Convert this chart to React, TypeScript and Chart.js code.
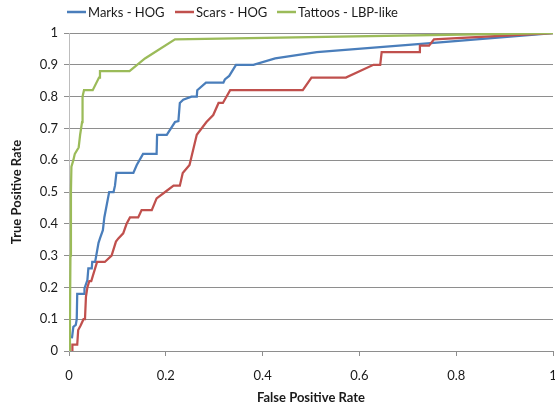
import React, { useEffect, useRef } from "react";
import { Chart, registerables } from "chart.js";

Chart.register(...registerables);

const seriesNames = ["Marks - HOG", "Scars - HOG", "Tattoos - LBP-like"];

const marksX = [0.006, 0.009, 0.014, 0.016, 0.017, 0.031, 0.032, 0.038, 0.04, 0.047, 0.048, 0.054, 0.061, 0.064, 0.07, 0.073, 0.078, 0.083, 0.092, 0.095, 0.098, 0.133, 0.14, 0.153, 0.181, 0.182, 0.202, 0.219, 0.226, 0.229, 0.236, 0.253, 0.264, 0.265, 0.283, 0.319, 0.322, 0.331, 0.345, 0.381, 0.426, 0.512, 0.76, 1];
const marksY = [0.04, 0.076, 0.082, 0.1, 0.18, 0.18, 0.197, 0.223, 0.26, 0.26, 0.28, 0.28, 0.34, 0.354, 0.38, 0.42, 0.46, 0.5, 0.5, 0.52, 0.56, 0.56, 0.585, 0.62, 0.62, 0.68, 0.68, 0.72, 0.723, 0.78, 0.79, 0.8, 0.8, 0.82, 0.844, 0.844, 0.854, 0.865, 0.9, 0.9, 0.92, 0.94, 0.97, 1];

const scarsX = [0.007, 0.007, 0.017, 0.019, 0.024, 0.03, 0.033, 0.035, 0.038, 0.042, 0.046, 0.058, 0.074, 0.088, 0.097, 0.102, 0.112, 0.119, 0.126, 0.143, 0.15, 0.171, 0.181, 0.202, 0.216, 0.229, 0.235, 0.249, 0.264, 0.284, 0.298, 0.309, 0.318, 0.333, 0.483, 0.501, 0.572, 0.629, 0.643, 0.646, 0.724, 0.725, 0.744, 0.754, 1];
const scarsY = [0, 0.02, 0.02, 0.066, 0.08, 0.1, 0.1, 0.17, 0.2, 0.22, 0.22, 0.28, 0.28, 0.3, 0.344, 0.354, 0.37, 0.4, 0.42, 0.42, 0.443, 0.443, 0.48, 0.504, 0.52, 0.52, 0.56, 0.585, 0.68, 0.72, 0.742, 0.78, 0.78, 0.82, 0.82, 0.86, 0.86, 0.9, 0.9, 0.94, 0.94, 0.96, 0.96, 0.98, 1];

const tattoosX = [0, 0.002, 0.003, 0.004, 0.005, 0.009, 0.012, 0.02, 0.023, 0.027, 0.028, 0.031, 0.049, 0.062, 0.064, 0.125, 0.157, 0.219, 1];
const tattoosY = [0, 0.1, 0.3, 0.5, 0.58, 0.6, 0.62, 0.64, 0.68, 0.72, 0.8, 0.82, 0.82, 0.86, 0.88, 0.88, 0.92, 0.98, 1];

const colors = ["#4a7ebb", "#c0504d", "#9bbb59"];

const FONT = 'Lato, "Open Sans", "Liberation Sans", sans-serif';

const toPts = (xs: number[], ys: number[]) => xs.map((x, i) => ({ x, y: ys[i] }));

const legendPlugin = {
  id: "customLegend",
  afterDraw(chart: any) {
    const ctx = chart.ctx;
    const xs = [67, 175, 277];
    ctx.save();
    ctx.font = `13px ${FONT}`;
    ctx.textBaseline = "middle";
    ctx.textAlign = "left";
    seriesNames.forEach((name, i) => {
      const x = xs[i];
      const y = 12;
      ctx.strokeStyle = colors[i];
      ctx.lineWidth = 2.5;
      ctx.beginPath();
      ctx.moveTo(x, y);
      ctx.lineTo(x + 19, y);
      ctx.stroke();
      ctx.fillStyle = "#1a1a1a";
      ctx.fillText(name, x + 21, y + 1);
    });
    ctx.restore();
  },
};

export default function App() {
  const ref = useRef<HTMLCanvasElement | null>(null);
  useEffect(() => {
    if (!ref.current) return;
    const chart = new Chart(ref.current, {
      type: "scatter",
      data: {
        datasets: [
          { label: seriesNames[0], data: toPts(marksX, marksY), borderColor: colors[0], backgroundColor: colors[0], order: 2 },
          { label: seriesNames[1], data: toPts(scarsX, scarsY), borderColor: colors[1], backgroundColor: colors[1], order: 1 },
          { label: seriesNames[2], data: toPts(tattoosX, tattoosY), borderColor: colors[2], backgroundColor: colors[2], order: 0 },
        ].map((d) => ({ ...d, showLine: true, pointRadius: 0, borderWidth: 2.25, tension: 0 })),
      },
      options: {
        responsive: false,
        animation: false,
        layout: { padding: { top: 33, right: 2, left: 0, bottom: 0 } },
        plugins: { legend: { display: false }, tooltip: { enabled: false } },
        scales: {
          x: {
            type: "linear",
            min: 0,
            max: 1,
            ticks: {
              stepSize: 0.2,
              color: "#1a1a1a",
              font: { family: FONT, size: 13 },
              padding: 12,
              maxRotation: 0,
              callback: (v: any) => String(Math.round(Number(v) * 10) / 10),
            },
            grid: { drawOnChartArea: false, drawTicks: true, tickLength: 5, color: "#8e8e8e" },
            border: { color: "#8e8e8e", width: 1 },
            title: {
              display: true,
              text: "False Positive Rate",
              color: "#1a1a1a",
              font: { family: FONT, size: 13, weight: "bold" },
              padding: { top: 0, bottom: 3 },
            },
            afterFit: (s: any) => {
              s.height = 58;
              s.paddingLeft = 0;
              s.paddingRight = 0;
            },
          },
          y: {
            type: "linear",
            min: 0,
            max: 1,
            ticks: {
              stepSize: 0.1,
              color: "#1a1a1a",
              font: { family: FONT, size: 13 },
              padding: 6,
              callback: (v: any) => String(Math.round(Number(v) * 10) / 10),
            },
            grid: { drawTicks: true, tickLength: 5, color: "#8e8e8e" },
            border: { color: "#bdbdbd", width: 1 },
            title: {
              display: true,
              text: "True Positive Rate",
              color: "#1a1a1a",
              font: { family: FONT, size: 13, weight: "bold" },
              padding: { top: 9, bottom: 0 },
            },
            afterFit: (s: any) => {
              s.width = 69;
              s.paddingTop = 0;
              s.paddingBottom = 0;
            },
          },
        },
      },
      plugins: [legendPlugin],
    } as any);
    return () => chart.destroy();
  }, []);
  return (
    <div style={{ position: "fixed", left: 0, top: 0, width: 555, height: 409, background: "#fff" }}>
      <canvas ref={ref} width={555} height={409} style={{ display: "block" }} />
    </div>
  );
}
